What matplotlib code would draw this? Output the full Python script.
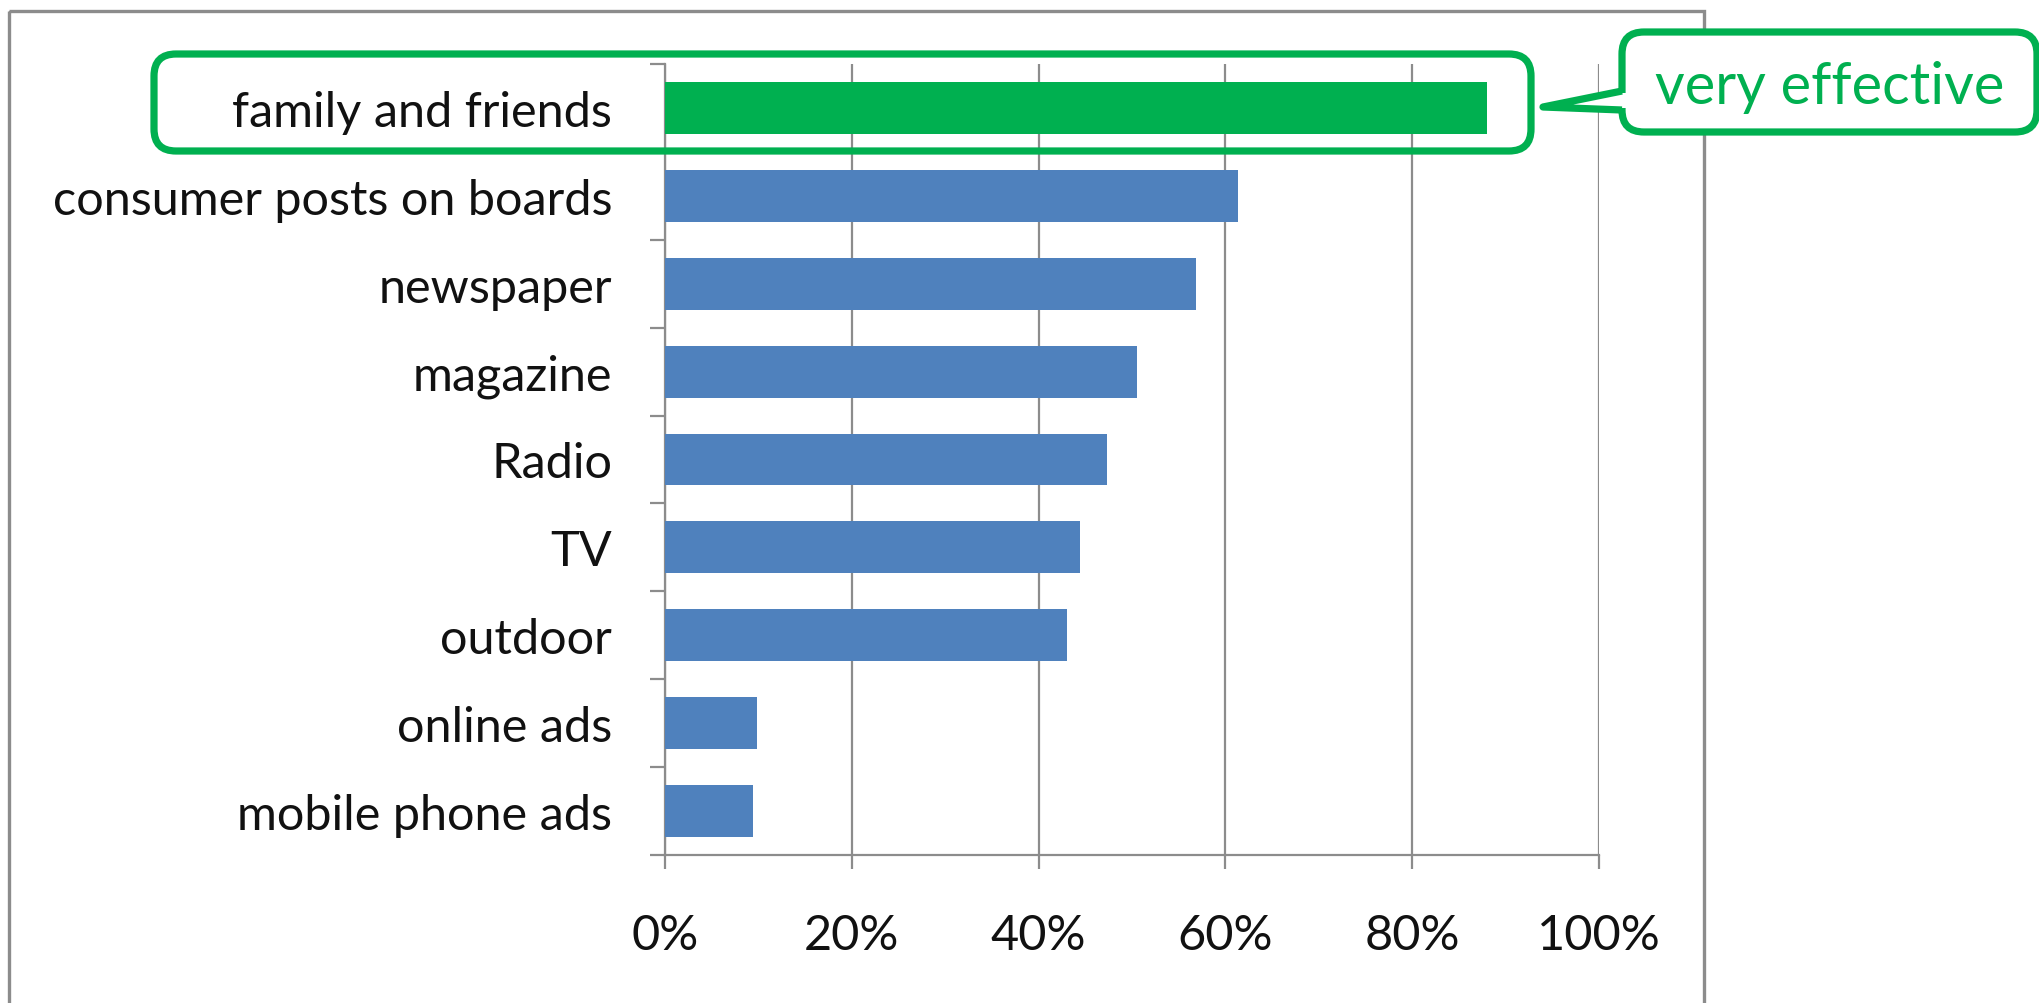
import matplotlib
matplotlib.use("Agg")
import matplotlib.pyplot as plt
from matplotlib.patches import FancyBboxPatch, Polygon, Rectangle
from matplotlib.ticker import FixedLocator, FuncFormatter

# data (percent of respondents)
categories = [
    "family and friends",
    "consumer posts on boards",
    "newspaper",
    "magazine",
    "Radio",
    "TV",
    "outdoor",
    "online ads",
    "mobile phone ads",
]
values = [88.0, 61.4, 56.8, 50.5, 47.3, 44.4, 43.0, 9.85, 9.4]
highlight = "family and friends"
callout_text = "very effective"
xticks = [0, 20, 40, 60, 80, 100]

green = "#00B050"
blue = "#4F81BD"
gray = "#8C8C8C"

plt.rcParams["font.family"] = ["Lato", "DejaVu Sans"]

W, H = 2040, 1004
fig = plt.figure(figsize=(W / 100, H / 100), dpi=100)

# outer frame and annotation layer in pixel coordinates
over = fig.add_axes([0, 0, 1, 1], zorder=5)
over.set_xlim(0, W)
over.set_ylim(H, 0)
over.axis("off")
over.patch.set_alpha(0)

back = fig.add_axes([0, 0, 1, 1], zorder=0)
back.set_xlim(0, W)
back.set_ylim(H, 0)
back.axis("off")
back.add_patch(Rectangle((9, 12), 1695, 1100, fill=False, edgecolor=gray, lw=2.4))

# main chart
x0, x1, ytop, ybot = 665, 1599, 65, 856
ax = fig.add_axes([x0 / W, (H - ybot) / H, (x1 - x0) / W, (ybot - ytop) / H], zorder=2)
ax.patch.set_alpha(0)

pos = list(range(len(categories)))
colors = [green if c == highlight else blue for c in categories]
ax.barh(pos, values, height=0.59, color=colors, zorder=3)

ax.set_xlim(0, 100)
ax.set_ylim(len(categories) - 0.5, -0.5)
ax.set_yticks(pos)
ax.set_yticklabels(categories)
ax.yaxis.set_minor_locator(FixedLocator([p - 0.5 for p in pos] + [len(pos) - 0.5]))
ax.set_xticks(xticks)
ax.xaxis.set_major_formatter(FuncFormatter(lambda v, _: f"{v:.0f}%"))

ax.grid(axis="x", color=gray, lw=1.6, zorder=1)
for side in ["top", "right"]:
    ax.spines[side].set_visible(False)
for side in ["left", "bottom"]:
    ax.spines[side].set_color(gray)
    ax.spines[side].set_linewidth(1.6)

ax.tick_params(axis="y", which="major", length=0, pad=38, labelsize=35, labelcolor="#111111")
ax.tick_params(axis="y", which="minor", length=11, width=1.6, color=gray)
ax.tick_params(axis="x", which="major", length=10, width=1.6, color=gray, pad=32,
               labelsize=35, labelcolor="#111111")

# highlight box around the top row
over.add_patch(FancyBboxPatch((154, 55), 1531 - 154, 152 - 55,
                              boxstyle="round,pad=0,rounding_size=22",
                              fill=False, edgecolor=green, lw=5.2))

# callout with pointer
over.add_patch(FancyBboxPatch((1622, 33), 2037 - 1622, 133 - 33,
                              boxstyle="round,pad=0,rounding_size=22",
                              facecolor="white", edgecolor=green, lw=5.2))
over.add_patch(Rectangle((1616, 94), 14, 15, facecolor="white", edgecolor="none"))
over.add_patch(Polygon([(1622, 92), (1543, 108), (1622, 111)], closed=False,
                       facecolor="white", edgecolor=green, lw=5.2, joinstyle="round"))
over.text(1830, 88, callout_text, color=green, fontsize=41.5, ha="center", va="center")

fig.savefig("out.png", dpi=100)
